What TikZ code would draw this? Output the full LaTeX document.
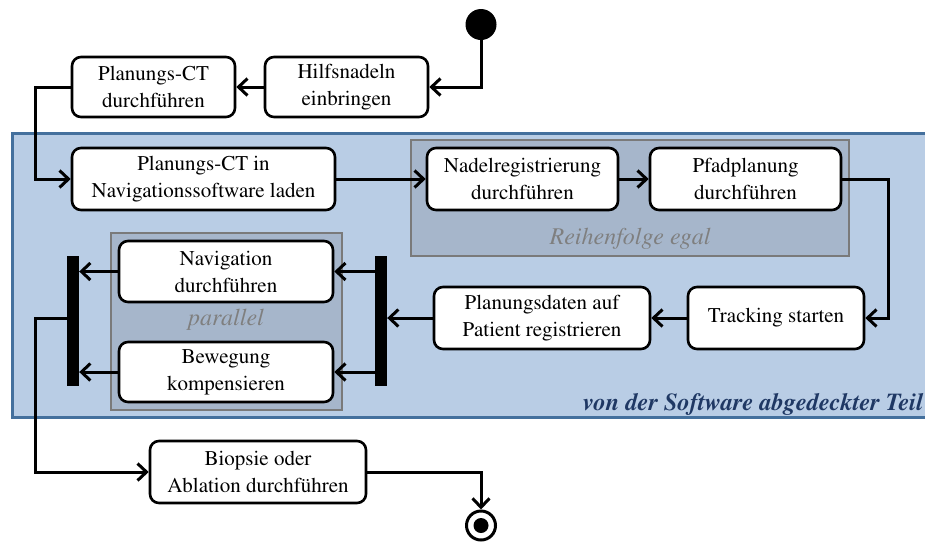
\documentclass[tikz,border=0pt]{standalone}
\usepackage[T1]{fontenc}
\renewcommand{\rmdefault}{ptm}
\usetikzlibrary{arrows.meta}
\definecolor{regionfill}{HTML}{B9CDE5}
\definecolor{regionline}{HTML}{44709D}
\definecolor{groupfill}{HTML}{A6B6CB}
\definecolor{groupline}{HTML}{7A7A7A}
\definecolor{grouptext}{HTML}{7F7F7F}
\definecolor{regiontext}{HTML}{1F3864}
\tikzset{
  act/.style={draw=black, fill=white, line width=2.6pt, rounded corners=9pt,
    align=center, inner sep=0pt, font=\rmfamily\fontsize{21}{27}\selectfont},
  bar/.style={fill=black, draw=none, inner sep=0pt, minimum width=12pt, minimum height=130pt},
  flow/.style={line width=3pt, -{Straight Barb[length=9pt,width=17pt,line width=3pt]}},
  grp/.style={draw=groupline, fill=groupfill, line width=1.6pt},
  grplabel/.style={text=grouptext, font=\rmfamily\fontsize{24}{28}\selectfont\itshape},
}
\begin{document}
\begin{tikzpicture}[x=1pt, y=-1pt]
\useasboundingbox (0,0) rectangle (925,542);

% area handled by the software
\draw[regionline, fill=regionfill, line width=3pt] (12,133) rectangle (960,417);
\node[anchor=base west, text=regiontext, font=\rmfamily\fontsize{24.4}{29}\selectfont\bfseries\itshape, inner sep=0pt]
  (swlabel) at (583,410) {von der Software abgedeckter Teil};

% groupings
\draw[grp] (411,140) rectangle (849,256);
\node[grplabel] (order) at (630,239) {Reihenfolge egal};
\draw[grp] (111,233) rectangle (342,410);
\node[grplabel] (par) at (226,320) {parallel};

% start and end
\fill (481,24.5) circle (15.5pt) coordinate (start);
\node[circle, draw=black, line width=3pt, minimum size=29pt, inner sep=0pt] (end) at (481,525.5) {};
\fill (end.center) circle (7.5pt);

% actions
\node[act, minimum width=163pt, minimum height=60pt] (hilf) at (346.5,87) {Hilfsnadeln\\einbringen};
\node[act, minimum width=163pt, minimum height=60pt] (pct) at (153.5,87) {Planungs-CT\\durchf\"uhren};
\node[act, minimum width=263pt, minimum height=62pt] (navsw) at (203.5,179) {Planungs-CT in\\Navigationssoftware laden};
\node[act, minimum width=191pt, minimum height=62pt] (nadel) at (522.5,179) {Nadelregistrierung\\durchf\"uhren};
\node[act, minimum width=191pt, minimum height=62pt] (pfad) at (745.5,179) {Pfadplanung\\durchf\"uhren};
\node[act, minimum width=176pt, minimum height=62pt] (track) at (776,318) {Tracking starten};
\node[act, minimum width=216pt, minimum height=62pt] (plan) at (542,318) {Planungsdaten auf\\Patient registrieren};
\node[act, minimum width=214pt, minimum height=61pt] (navig) at (226,271.5) {Navigation\\durchf\"uhren};
\node[act, minimum width=214pt, minimum height=60pt] (bew) at (226,372) {Bewegung\\kompensieren};
\node[act, minimum width=216pt, minimum height=62pt] (bio) at (258,472) {Biopsie oder\\Ablation durchf\"uhren};

% fork and join bars
\node[bar] (fork) at (381,321) {};
\node[bar] (join) at (73,321) {};

% helper positions for routed lines
\coordinate (lx) at (35,0);
\coordinate (rx) at (888,0);

% connectors
\draw[flow] (start) |- (hilf.east);
\draw[flow] (hilf.west) -- (pct.east);
\draw[flow] (pct.west) -- (pct.west -| lx) |- (navsw.west);
\draw[flow] (navsw.east) -- (nadel.west);
\draw[flow] (nadel.east) -- (pfad.west);
\draw[flow] (pfad.east) -- (pfad.east -| rx) |- (track.east);
\draw[flow] (track.west) -- (plan.east);
\draw[flow] (plan.west) -- (fork.east |- plan.west);
\draw[flow] (fork.west |- navig.east) -- (navig.east);
\draw[flow] (fork.west |- bew.east) -- (bew.east);
\draw[flow] (navig.west) -- (join.east |- navig.west);
\draw[flow] (bew.west) -- (join.east |- bew.west);
\draw[flow] (join.west |- plan.west) -- (plan.west -| lx) |- (bio.west);
\draw[flow] (bio.east) -| (end.north);
\end{tikzpicture}
\end{document}
